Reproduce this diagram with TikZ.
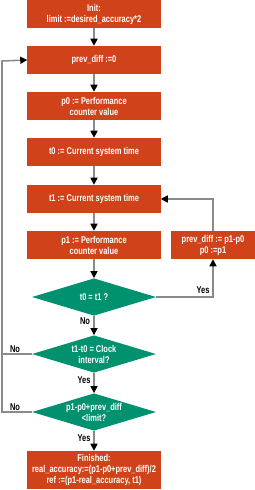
\documentclass[tikz,border=0pt]{standalone}
\usepackage{fontspec}
\usepackage{tikz}
\usetikzlibrary{arrows.meta,shapes.geometric}
\newfontfamily\chartfont{Liberation Sans}[UprightFont={* Bold},FakeStretch=0.76]
\definecolor{boxred}{HTML}{D0421A}
\definecolor{decgreen}{HTML}{00916F}
\definecolor{linegray}{HTML}{8A8A8A}
\tikzset{
  procbox/.style={fill=boxred,text=white,minimum width=3.99cm,minimum height=0.84cm,
    inner sep=1pt,align=center,font=\chartfont\fontsize{8.4}{9.4}\selectfont},
  decision/.style={diamond,fill=decgreen,text=white,minimum width=3.72cm,minimum height=1.12cm,
    aspect=3.3,inner sep=-3pt,align=center,font=\chartfont\fontsize{8.4}{9.4}\selectfont},
  flow/.style={draw=linegray,line width=1.3pt},
  flowarrow/.style={flow,-{Triangle[color=black,length=6pt,width=6pt]}},
  answer/.style={font=\chartfont\fontsize{8.4}{9.4}\selectfont,text=black,inner sep=1pt}
}

\begin{document}
\begin{tikzpicture}[x=0.03cm,y=-0.03cm]
  \useasboundingbox (0,0) rectangle (255,490);
  % main column
  \node[procbox] (init) at (94,14) {Init:\\limit :=desired\_accuracy*2};
  \node[procbox] (prev) at (94,60) {prev\_diff :=0};
  \node[procbox] (pzero) at (94,106) {p0 := Performance\\counter value};
  \node[procbox] (tzero) at (94,152) {t0 := Current system time};
  \node[procbox] (tone) at (94,199) {t1 := Current system time};
  \node[procbox] (pone) at (94,245) {p1 := Performance\\counter value};
  \node[decision] (same) at (94,297) {t0 = t1 ?};
  \node[decision] (clock) at (94,354) {t1-t0 = Clock\\interval?};
  \node[decision] (limit) at (94,412) {p1-p0+prev\_diff\\<limit?};
  \node[procbox,minimum height=1.14cm] (done) at (94,470)
    {Finished:\\real\_accuracy:=(p1-p0+prev\_diff)/2\\ref :=(p1-real\_accuracy, t1)};
  % side box
  \node[procbox,minimum width=2.52cm] (update) at (213,245) {prev\_diff := p1-p0\\p0 :=p1};
  \coordinate (loopbot) at (2,412);
  \coordinate (looptop) at (2,61);
  \coordinate (loopmid) at (2,354);

  \draw[flowarrow] (init) -- (prev);
  \draw[flowarrow] (prev) -- (pzero);
  \draw[flowarrow] (pzero) -- (tzero);
  \draw[flowarrow] (tzero) -- (tone);
  \draw[flowarrow] (tone) -- (pone);
  \draw[flowarrow] (pone) -- (same);
  \draw[flowarrow] (same.east) -| (update.south);
  \draw[flowarrow] (update.north) |- (tone.east);
  \draw[flowarrow] (same) -- (clock);
  \draw[flowarrow] (clock) -- (limit);
  \draw[flowarrow] (limit) -- (done);
  \draw[flow] (clock.west) -- (loopmid);
  \draw[flowarrow] (limit.west) -- (loopbot) -- (looptop) -- (prev.west);

  \node[answer] (yesa) at (203,290) {Yes};
  \node[answer] (noa) at (85,321) {No};
  \node[answer] (yesb) at (84,380) {Yes};
  \node[answer] (yesc) at (84,438) {Yes};
  \node[answer] (nob) at (15,349) {No};
  \node[answer] (noc) at (15,407) {No};
\end{tikzpicture}
\end{document}
